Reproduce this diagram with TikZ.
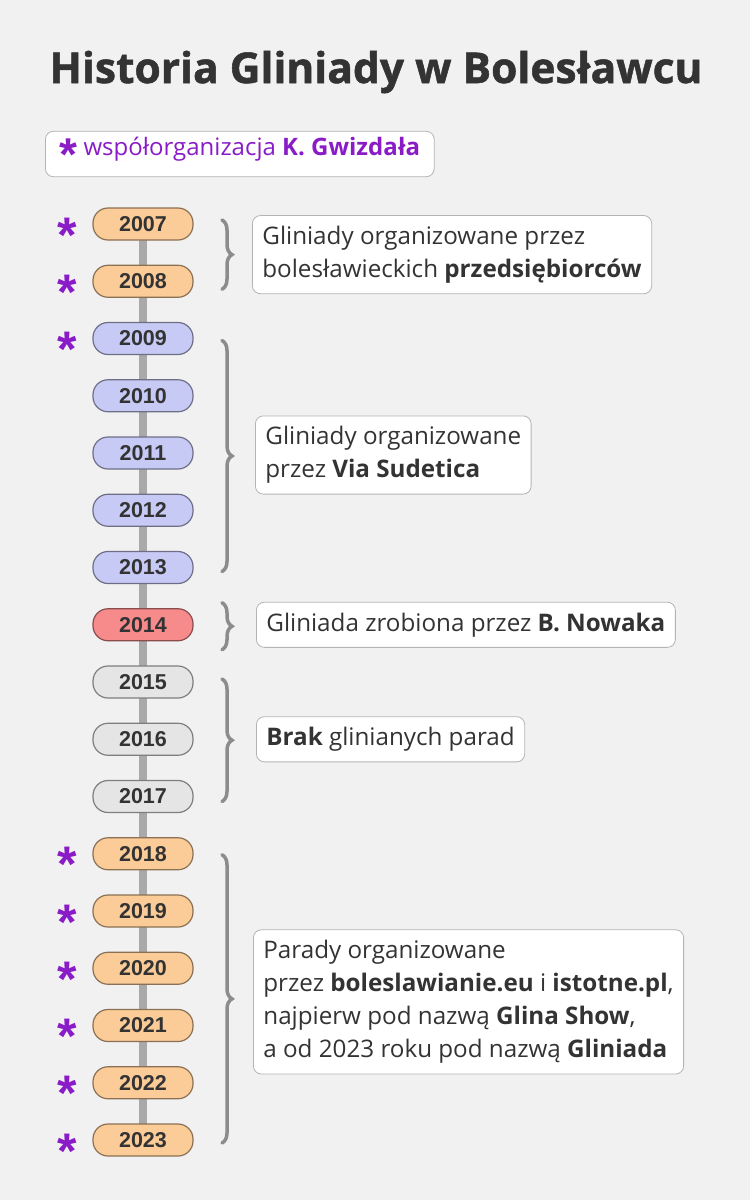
\documentclass[tikz,border=0pt]{standalone}
\usepackage{fontspec}
\setmainfont{Open Sans}
\newfontfamily\yearfont{Liberation Sans}
\newfontfamily\titlefont{Open Sans}[BoldFeatures={FakeBold=1.2}]
\usetikzlibrary{calc,decorations.pathreplacing}

\definecolor{bgpaper}{HTML}{F1F1F1}
\definecolor{inkdark}{HTML}{333333}
\definecolor{peach}{HTML}{FBCB98}
\definecolor{lavender}{HTML}{C8CAF6}
\definecolor{salmon}{HTML}{F78A8A}
\definecolor{ash}{HTML}{E5E5E5}
\definecolor{coop}{HTML}{8A1CC8}
\definecolor{spinegray}{HTML}{A9A9A9}
\definecolor{bracegray}{HTML}{8C8C8C}
\definecolor{boxline}{HTML}{B4B4B4}

\begin{document}
\begin{tikzpicture}[x=1pt,y=-1pt]
        \tikzstyle{every node}=[text=inkdark]
        \tikzstyle{year}=[rounded corners=15pt, minimum width=100pt, minimum height=32pt, line width=1.2pt, inner sep=0pt, font=\yearfont\bfseries\fontsize{21.5}{21.5}\selectfont]
        \tikzstyle{coopstar}=[text=coop, inner sep=0pt, yshift=-11pt, font=\yearfont\bfseries\fontsize{50}{50}\selectfont]
        \tikzstyle{grouping}=[decorate, decoration={brace, amplitude=10pt}, draw=bracegray, line width=3.5pt, line cap=round]
        \tikzstyle{desc}=[draw=boxline, fill=white, rounded corners=8pt, line width=0.8pt, align=left, anchor=west, inner xsep=10pt, inner ysep=10.5pt, font=\fontsize{24.2}{33}\selectfont]
        \fill[bgpaper] (0,0) rectangle (750,1200);
        \node[font=\titlefont\bfseries\fontsize{42.5}{42.5}\selectfont] (heading) at (376,72) {Historia Gliniady w Bolesławcu};
        \node[desc, text=coop, inner xsep=14pt, inner ysep=6pt, font=\fontsize{24}{24}\selectfont] (key) at (45,154) {{\yearfont\bfseries\fontsize{46}{46}\selectfont\raisebox{-15pt}{*}} współorganizacja \textbf{K. Gwizdała}};
        % oś czasu
        \coordinate (spinetop) at (143,224);
        \coordinate (spinebot) at (143,1140);
        \draw[spinegray, line width=8pt] (spinetop) -- (spinebot);
        \foreach \yr/\col [count=\i from 0] in {2007/peach,2008/peach,2009/lavender,2010/lavender,2011/lavender,2012/lavender,2013/lavender,2014/salmon,2015/ash,2016/ash,2017/ash,2018/peach,2019/peach,2020/peach,2021/peach,2022/peach,2023/peach}
            \node[year, fill=\col, draw=\col!55!black] (y\yr) at (143,224+57.25*\i) {\yr};
        \foreach \yr in {2007,2008,2009,2018,2019,2020,2021,2022,2023}
            \node[coopstar] (s\yr) at ($(y\yr)+(-76,0)$) {*};
        % klamry
        \draw[grouping] ($(y2007)+(79,-4)$) -- ($(y2008)+(79,8)$);
        \draw[grouping] ($(y2009)+(79,2)$) -- ($(y2013)+(79,4)$);
        \draw[grouping] ($(y2014)+(79,-22)$) -- ($(y2014)+(79,25)$);
        \draw[grouping] ($(y2015)+(79,-3)$) -- ($(y2017)+(79,5)$);
        \draw[grouping] ($(y2018)+(79,1)$) -- ($(y2023)+(79,3)$);
        % opisy
        \node[desc] (t1) at ($(y2007)!0.5!(y2008)+(109,2)$) {Gliniady organizowane przez\\bolesławieckich \textbf{przedsiębiorców}};
        \node[desc] (t2) at ($(y2011)+(112,2)$) {Gliniady organizowane\\przez \textbf{Via Sudetica}};
        \node[desc] (t3) at ($(y2014)+(113,0)$) {Gliniada zrobiona przez \textbf{B. Nowaka}};
        \node[desc] (t4) at ($(y2016)+(113,0)$) {\textbf{Brak} glinianych parad};
        \node[desc] (t5) at ($(y2020)!0.5!(y2021)+(110,5)$) {Parady organizowane\\przez \textbf{boleslawianie.eu} i \textbf{istotne.pl},\\najpierw pod nazwą \textbf{Glina Show},\\a od 2023 roku pod nazwą \textbf{Gliniada}};
    \end{tikzpicture}
\end{document}
